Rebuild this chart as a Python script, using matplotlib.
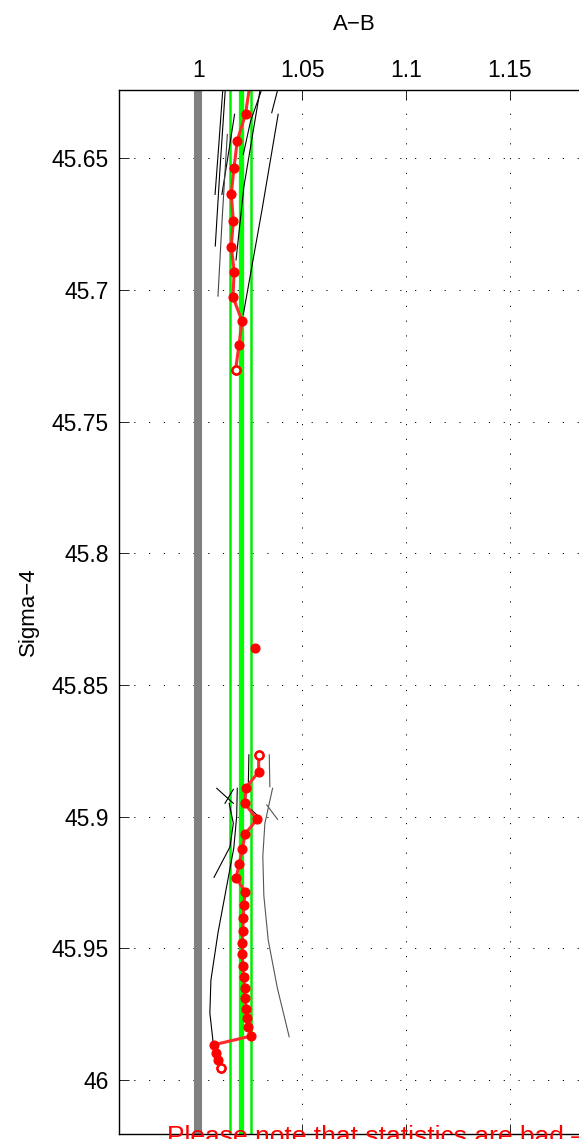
import numpy as np
import matplotlib.pyplot as plt
from matplotlib.ticker import FixedLocator, FuncFormatter

plt.rcParams['font.family'] = ['Liberation Sans', 'DejaVu Sans']

# 红色数据点 (上段)
top_x = [1.0248, 1.0227, 1.0187, 1.0171, 1.0158, 1.0168, 1.0158, 1.0172, 1.0166, 1.0210, 1.0195, 1.0179]
top_y = [45.6220, 45.6332, 45.6434, 45.6538, 45.6638, 45.6738, 45.6836, 45.6931, 45.7027, 45.7119, 45.7211, 45.7303]

# 单独的点
lone_x = [1.0272]
lone_y = [45.8358]

# 红色数据点 (下段)
bot_x = [1.0290, 1.0290, 1.0229, 1.0223, 1.0282, 1.0225, 1.0211, 1.0197, 1.0181,
         1.0224, 1.0219, 1.0216, 1.0213, 1.0211, 1.0211, 1.0213, 1.0218, 1.0222,
         1.0225, 1.0229, 1.0234, 1.0240, 1.0255, 1.0076, 1.0083, 1.0092, 1.0108]
bot_y = [45.8765, 45.8829, 45.8890, 45.8949, 45.9010, 45.9065, 45.9123, 45.9179, 45.9231,
         45.9284, 45.9335, 45.9385, 45.9432, 45.9478, 45.9521, 45.9565, 45.9610, 45.9651,
         45.9689, 45.9728, 45.9765, 45.9798, 45.9832, 45.9865, 45.9896, 45.9924, 45.9952]

# 空心点
open_x = [top_x[-1], bot_x[0], bot_x[-1]]
open_y = [top_y[-1], bot_y[0], bot_y[-1]]

# 参考线
ref_x = 1.0
green_thin = [1.0152, 1.0251]
green_thick = [1.0203]

# 黑色细线 (x 列表, y 列表, 颜色)
curves = [
    ([1.0117, 1.0098, 1.0080], [45.6243, 45.6450, 45.6638], 'black'),
    ([1.0129, 1.0103, 1.0081], [45.6243, 45.6550, 45.6834], 'black'),
    ([1.0174, 1.0143, 1.0113], [45.6334, 45.6490, 45.6638], 'black'),
    ([1.0139, 1.0115, 1.0094], [45.6410, 45.6720, 45.7024], '#444444'),
    ([1.0296, 1.0219, 1.0181], [45.6246, 45.6608, 45.6887], 'black'),
    ([1.0301, 1.0251, 1.0216], [45.6248, 45.6360, 45.6486], 'black'),
    ([1.0384, 1.0306, 1.0216], [45.6334, 45.6697, 45.7094], 'black'),
    ([1.0380, 1.0353], [45.6246, 45.6328], 'black'),
    ([1.0088, 1.0168], [45.8892, 45.8949], 'black'),
    ([1.0128, 1.0168], [45.8949, 45.8896], 'black'),
    ([1.0148, 1.0168, 1.0152, 1.0075], [45.8949, 45.9025, 45.9114, 45.9230], 'black'),
    ([1.0187, 1.0184, 1.0170, 1.0094, 1.0060, 1.0055, 1.0071],
     [45.8892, 45.9000, 45.9120, 45.9441, 45.9620, 45.9745, 45.9859], 'black'),
    ([1.0357, 1.0320, 1.0310, 1.0315, 1.0336, 1.0380, 1.0437],
     [45.8892, 45.9025, 45.9150, 45.9300, 45.9468, 45.9650, 45.9835], '#555555'),
    ([1.0329, 1.0381], [45.8955, 45.9010], '#555555'),
    ([1.0341, 1.0344], [45.8765, 45.8886], '#555555'),
    ([1.0243, 1.0240], [45.8765, 45.8886], 'black'),
    ([1.0256, 1.0293], [45.8974, 45.9002], 'black'),
]

x_ticks = [1.0, 1.05, 1.1, 1.15]
y_ticks = [45.65, 45.7, 45.75, 45.8, 45.85, 45.9, 45.95, 46.0]

fig = plt.figure(figsize=(5.79, 11.39), dpi=100)
ax = fig.add_axes([0.2047, 0.0044, 0.8143, 0.9163])
ax.set_axisbelow(True)

ax.axvline(ref_x, color='#808080', lw=5.8, zorder=1.5)
for gx in green_thin:
    ax.axvline(gx, color='#00ee00', lw=1.8, zorder=2)
for gx in green_thick:
    ax.axvline(gx, color='#00ff00', lw=3.8, zorder=2)

for cx, cy, cc in curves:
    ax.plot(cx, cy, color=cc, lw=0.8, zorder=3)

red_kw = dict(color='#ff2a2a', lw=2.2, marker='o', ms=6.3,
              mfc='red', mec='red', zorder=4)
ax.plot(top_x, top_y, **red_kw)
ax.plot(lone_x, lone_y, **red_kw)
ax.plot(bot_x, bot_y, **red_kw)
ax.plot(open_x, open_y, ls='none', marker='o', ms=5.8, mfc='white',
        mec='red', mew=1.8, zorder=5)

ax.set_xlim(0.9615, 1.1886)
ax.set_ylim(46.0204, 45.6243)

ax.xaxis.set_major_locator(FixedLocator(x_ticks))
ax.yaxis.set_major_locator(FixedLocator(y_ticks))
fmt = FuncFormatter(lambda v, p: f'{v:g}')
ax.xaxis.set_major_formatter(fmt)
ax.yaxis.set_major_formatter(fmt)

ax.tick_params(axis='both', direction='in', length=7, width=0.6,
               labelsize=16.5, top=True, right=True)
ax.tick_params(axis='x', labeltop=True, labelbottom=False, pad=6)
ax.tick_params(axis='y', pad=7)

ax.grid(True, color='black', lw=0.7, ls=(0, (1.2, 14)))
for s in ax.spines.values():
    s.set_linewidth(1.0)
    s.set_zorder(6)

ax.xaxis.set_label_position('top')
ax.set_xlabel('A\u2212B', fontsize=16, labelpad=21)
ax.set_ylabel('Sigma\u22124', fontsize=16, labelpad=9)

fig.text(167 / 579, -0.0044, 'Please note that statistics are bad \u2013 few entries',
         color='red', fontsize=19, va='baseline', ha='left')

fig.savefig('out.png', dpi=100)
